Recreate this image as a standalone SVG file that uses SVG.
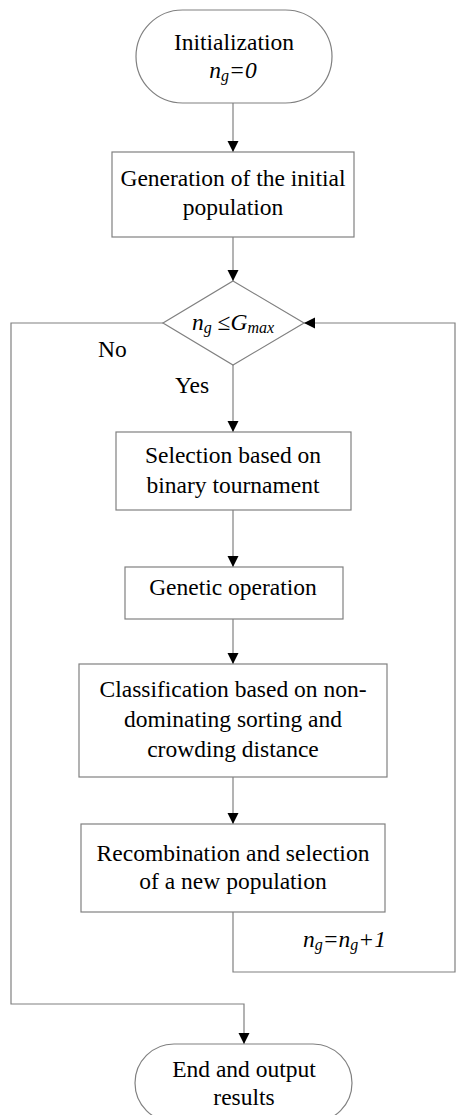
<svg xmlns="http://www.w3.org/2000/svg" width="456" height="1115" viewBox="0 0 456 1115">
<style>
.shape{fill:#ffffff;stroke:#808080;stroke-width:1.2}
.line{fill:none;stroke:#808080;stroke-width:1.2}
text{font-family:"Liberation Serif","Times New Roman",serif;font-size:23.5px;fill:#000000}
.c{text-anchor:middle}
.i{font-style:italic}
.sub{font-style:italic;font-size:16px}
</style>
<defs>
<marker id="arrow" markerUnits="userSpaceOnUse" markerWidth="12" markerHeight="12" viewBox="0 0 12 12" refX="11" refY="6" orient="auto">
<path d="M0,0.5 L11,6 L0,11.5 Z" fill="#000000"/>
</marker>
</defs>
<rect width="456" height="1115" fill="#ffffff"/>
<g id="connectors">
<line class="line" x1="233" y1="103" x2="233" y2="152" marker-end="url(#arrow)"/>
<line class="line" x1="233" y1="237" x2="233" y2="281" marker-end="url(#arrow)"/>
<line class="line" x1="233" y1="365" x2="233" y2="432" marker-end="url(#arrow)"/>
<line class="line" x1="233" y1="510" x2="233" y2="567" marker-end="url(#arrow)"/>
<line class="line" x1="233" y1="619" x2="233" y2="664" marker-end="url(#arrow)"/>
<line class="line" x1="233" y1="777" x2="233" y2="824" marker-end="url(#arrow)"/>
<polyline class="line" points="233,912 233,972 455,972 455,323 304,323" marker-end="url(#arrow)"/>
<polyline class="line" points="163,323 11,323 11,1004 244,1004 244,1044" marker-end="url(#arrow)"/>
<text x="98" y="357">No</text>
<text x="175" y="393">Yes</text>
<text x="303" y="947"><tspan class="i">n</tspan><tspan class="sub" dy="3">g</tspan><tspan class="i" dy="-3">=n</tspan><tspan class="sub" dy="3">g</tspan><tspan class="i" dy="-3">+1</tspan></text>
</g>
<g id="init">
<rect class="shape" x="136" y="10" width="196" height="93" rx="46.5"/>
<text class="c" x="234" y="50">Initialization</text>
<text class="c" x="233" y="78"><tspan class="i">n</tspan><tspan class="sub" dy="3">g</tspan><tspan class="i" dy="-3">=0</tspan></text>
</g>
<g id="generation">
<rect class="shape" x="112" y="152" width="242" height="85"/>
<text class="c" x="233" y="186">Generation of the initial</text>
<text class="c" x="233" y="215">population</text>
</g>
<g id="decision">
<polygon class="shape" points="233,281 304,323 233,365 163,323"/>
<text class="c" x="233" y="330"><tspan class="i">n</tspan><tspan class="sub" dy="3">g</tspan><tspan dy="-3"> ≤</tspan><tspan class="i">G</tspan><tspan class="sub" dy="3">max</tspan></text>
</g>
<g id="selection">
<rect class="shape" x="116" y="432" width="235" height="78"/>
<text class="c" x="233" y="463">Selection based on</text>
<text class="c" x="233" y="493">binary tournament</text>
</g>
<g id="genetic">
<rect class="shape" x="125" y="567" width="218" height="52"/>
<text class="c" x="233" y="595">Genetic operation</text>
</g>
<g id="classification">
<rect class="shape" x="79" y="664" width="308" height="113"/>
<text class="c" x="233" y="697">Classification based on non-</text>
<text class="c" x="233" y="727">dominating sorting and</text>
<text class="c" x="233" y="757">crowding distance</text>
</g>
<g id="recombination">
<rect class="shape" x="81" y="824" width="304" height="88"/>
<text class="c" x="233" y="861">Recombination and selection</text>
<text class="c" x="233" y="889">of a new population</text>
</g>
<g id="end">
<rect class="shape" x="135" y="1044" width="217" height="78" rx="39"/>
<text class="c" x="244" y="1077">End and output</text>
<text class="c" x="244" y="1105">results</text>
</g>
</svg>
